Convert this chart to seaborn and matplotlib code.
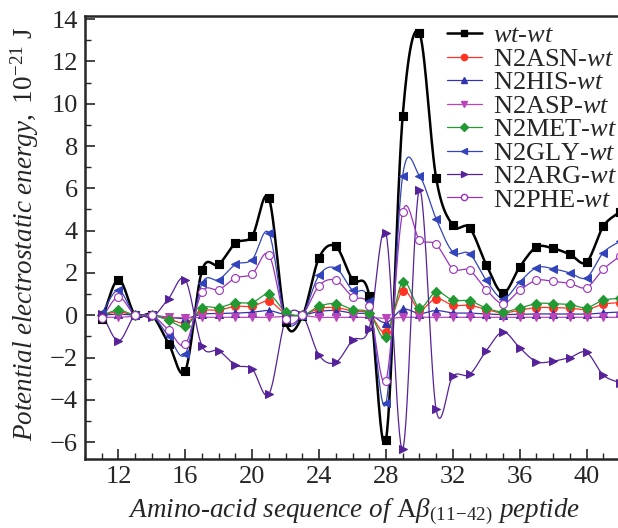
import numpy as np
import pandas as pd
import matplotlib.pyplot as plt
import seaborn as sns
from matplotlib.lines import Line2D
from matplotlib.ticker import MultipleLocator

# residue numbers of Abeta(11-42)
residues = list(range(11, 43))

wt_wt = [-0.2, 1.68, 0.0, 0.0, -1.34, -2.63, 2.12, 2.4, 3.41, 3.74, 5.53, -0.3,
         -0.05, 2.72, 3.25, 1.68, 0.93, -5.9, 9.4, 13.35, 6.5, 4.25, 4.14, 2.39,
         1.05, 2.28, 3.22, 3.16, 2.88, 2.51, 4.2, 4.9]
n2asn = [0.0, 0.16, 0.0, 0.0, -0.18, -0.36, 0.2, 0.24, 0.42, 0.42, 0.66, 0.08,
         0.0, 0.31, 0.36, 0.2, 0.08, -0.79, 1.15, 0.27, 0.79, 0.47, 0.47, 0.27,
         0.11, 0.24, 0.36, 0.36, 0.34, 0.27, 0.52, 0.6]
n2his = [0.0, 0.05, 0.0, 0.0, -0.1, -0.15, 0.05, 0.08, 0.1, 0.14, 0.22, 0.02,
         0.0, 0.18, 0.22, 0.1, 0.05, -0.35, 0.28, 0.08, 0.22, 0.11, 0.1, 0.06,
         0.03, 0.05, 0.06, 0.06, 0.05, 0.05, 0.11, 0.15]
n2asp = [-0.1, -0.1, -0.05, -0.05, -0.1, -0.12, -0.1, -0.1, -0.1, -0.1, -0.1, -0.05,
         -0.02, -0.1, -0.1, -0.1, -0.1, -0.15, -0.1, -0.1, -0.1, -0.1, -0.1, -0.1,
         -0.1, -0.1, -0.1, -0.1, -0.1, -0.1, -0.1, -0.1]
n2met = [0.0, 0.24, 0.0, 0.0, -0.24, -0.52, 0.34, 0.36, 0.58, 0.6, 0.98, 0.16,
         0.0, 0.42, 0.55, 0.27, 0.11, -1.05, 1.57, 0.36, 1.1, 0.71, 0.68, 0.34,
         0.16, 0.34, 0.55, 0.55, 0.5, 0.36, 0.71, 0.8]
n2gly = [0.1, 1.18, 0.0, 0.0, -0.99, -1.84, 1.5, 1.68, 2.4, 2.63, 3.88, -0.2,
         0.0, 1.89, 2.23, 1.18, 0.68, -4.17, 6.6, 6.6, 4.56, 2.99, 2.91, 1.65,
         0.79, 1.57, 2.25, 2.2, 2.0, 1.78, 2.96, 3.5]
n2arg = [0.08, -1.21, 0.0, -0.1, 0.79, 1.68, -1.46, -1.68, -2.36, -2.55, -3.73, -0.2,
         0.0, -1.89, -2.23, -1.18, -0.63, 3.88, -6.33, 5.93, -4.45, -2.88, -2.8, -1.68,
         -0.79, -1.54, -2.2, -2.17, -2.0, -1.76, -2.83, -3.2]
n2phe = [-0.15, 0.86, 0.0, 0.0, -0.7, -1.38, 1.1, 1.21, 1.76, 1.95, 2.86, -0.2,
         0.0, 1.4, 1.65, 0.86, 0.42, -3.1, 4.87, 3.58, 3.35, 2.2, 2.12, 1.21,
         0.55, 1.18, 1.65, 1.6, 1.5, 1.31, 2.17, 2.8]

labels = [r"$\mathit{wt}$-$\mathit{wt}$", r"N2ASN-$\mathit{wt}$", r"N2HIS-$\mathit{wt}$",
          r"N2ASP-$\mathit{wt}$", r"N2MET-$\mathit{wt}$", r"N2GLY-$\mathit{wt}$",
          r"N2ARG-$\mathit{wt}$", r"N2PHE-$\mathit{wt}$"]
series = [wt_wt, n2asn, n2his, n2asp, n2met, n2gly, n2arg, n2phe]
colors = ["#000000", "#ff3322", "#3333aa", "#bb44bb", "#229933", "#3344bb", "#552299", "#9933bb"]
markers = ["s", "o", "^", "v", "D", "<", ">", "o"]


def smooth(x, y, n=30):
    # Catmull-Rom curve through the points
    x = np.asarray(x, float)
    y = np.asarray(y, float)
    m = np.gradient(y, x)
    xs_all, ys_all = [], []
    for i in range(len(x) - 1):
        h = x[i + 1] - x[i]
        t = np.linspace(0, 1, n, endpoint=(i == len(x) - 2))
        h00 = 2 * t**3 - 3 * t**2 + 1
        h10 = t**3 - 2 * t**2 + t
        h01 = -2 * t**3 + 3 * t**2
        h11 = t**3 - t**2
        xs_all.append(x[i] + t * h)
        ys_all.append(h00 * y[i] + h10 * h * m[i] + h01 * y[i + 1] + h11 * h * m[i + 1])
    return np.concatenate(xs_all), np.concatenate(ys_all)


sns.set_style("ticks")
plt.rcParams["font.family"] = ["Liberation Serif", "DejaVu Serif"]
plt.rcParams["mathtext.fontset"] = "custom"
plt.rcParams["mathtext.rm"] = "Liberation Serif"
plt.rcParams["mathtext.it"] = "Liberation Serif:italic"
plt.rcParams["mathtext.bf"] = "Liberation Serif:bold"

fig = plt.figure(figsize=(6.18, 5.28), dpi=100)
ax = fig.add_axes([85 / 618, 1 - 459 / 528, 535 / 618, 443 / 528])

handles = []
for i, (vals, lab, col, mk) in enumerate(zip(series, labels, colors, markers)):
    xs, ys = smooth(residues, vals)
    lw = 1.8 if i == 0 else 0.9
    sns.lineplot(x=xs, y=ys, ax=ax, color=col, lw=lw, sort=False, legend=False)
    df = pd.DataFrame({"res": residues, "val": vals})
    face = "white" if i == 7 else col
    size = 40 if i == 0 else 32
    if mk == "D":
        size = 26
    sns.scatterplot(data=df, x="res", y="val", ax=ax, marker=mk, s=size,
                    color=face, edgecolor=col, linewidth=0.8, legend=False, zorder=3)
    handles.append(Line2D([], [], color=col, lw=lw, marker=mk,
                          markersize=5 if i == 0 else 4.5,
                          markerfacecolor=face, markeredgecolor=col))

ax.set_xlim(10, 42)
ax.set_ylim(-6.8, 14.15)
ax.xaxis.set_major_locator(MultipleLocator(4))
ax.xaxis.set_minor_locator(MultipleLocator(1))
ax.yaxis.set_major_locator(MultipleLocator(2))
ax.yaxis.set_minor_locator(MultipleLocator(1))
ax.tick_params(which="major", direction="in", length=7, width=1.2, labelsize=19, pad=5)
ax.tick_params(which="minor", direction="in", length=4, width=1.0)
for s in ax.spines.values():
    s.set_linewidth(1.8)

ax.set_xlabel(r"$\mathit{Amino}$-$\mathit{acid\ sequence\ of}$ A$\beta_{(11\!-\!42)}$ $\mathit{peptide}$",
              fontsize=19.5)
ax.set_ylabel(r"$\mathit{Potential\ electrostatic\ energy,}$ 10$^{-21}$ J", fontsize=19.5)
ax.xaxis.set_label_coords(0.503, -0.085)
ax.yaxis.set_label_coords(-0.082, 0.508)

ax.legend(handles, labels, loc="upper right", frameon=False, fontsize=19,
          handlelength=1.35, handletextpad=0.4, labelspacing=0.0,
          borderaxespad=0.0, borderpad=0.3, bbox_to_anchor=(1.009, 1.0))

fig.savefig("out.png", dpi=100)
